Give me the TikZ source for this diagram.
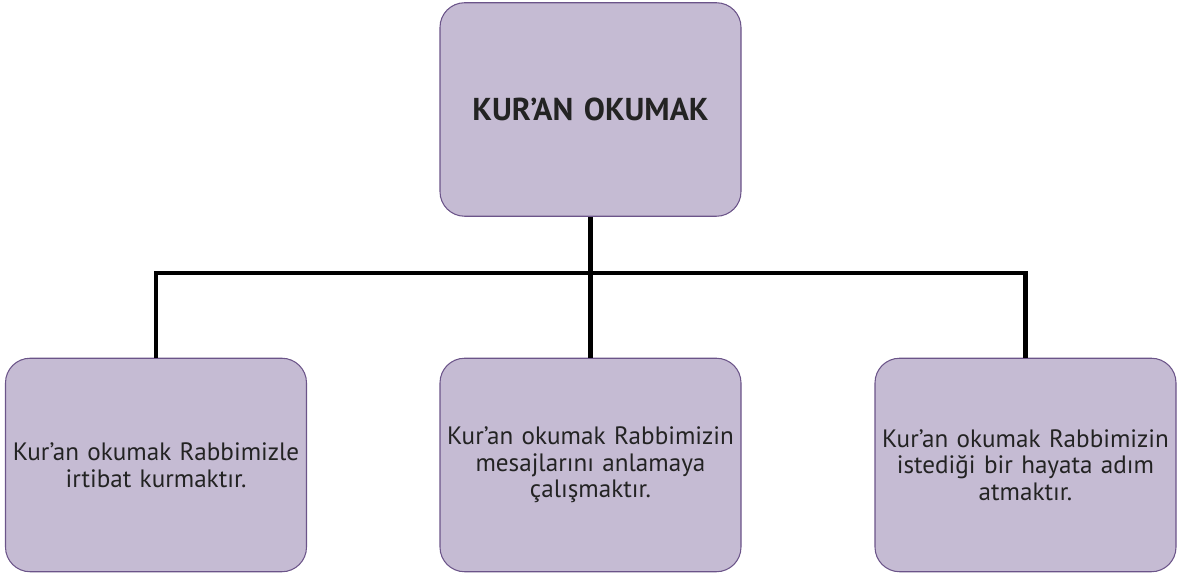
\documentclass[tikz,border=0pt]{standalone}
\usepackage{fontspec}
\setmainfont{PT Sans}
\usepackage{xcolor}
\definecolor{kutu}{HTML}{C5BBD3}
\definecolor{kenar}{HTML}{6B5489}
\definecolor{yazi}{HTML}{232323}
\tikzset{
  kutu/.style = {draw=kenar, line width=0.6pt, fill=kutu, rounded corners=14pt,
    minimum width=6.02cm, minimum height=4.27cm, align=center, text=yazi,
    text width=5.9cm, inner sep=0pt},
  bag/.style = {line width=2.3pt},
}

\begin{document}
\begin{tikzpicture}
			\def\W{23.66};
			\def\H{11.58};
			\def\bar{6.12};

			\useasboundingbox (0,0) rectangle (\W,\H);

			\node[kutu, font=\fontsize{18}{21}\selectfont\bfseries] (ana) at (11.81,9.39) {KUR’AN OKUMAK};

			\node[kutu, font=\fontsize{14.3}{15.2}\selectfont] (sol) at (3.12,2.28)
				{Kur’an okumak Rabbimizle\\irtibat kurmaktır.};
			\node[kutu, font=\fontsize{14.3}{15.2}\selectfont] (orta) at (11.81,2.28)
				{Kur’an okumak Rabbimizin\\mesajlarını anlamaya\\çalışmaktır.};
			\node[kutu, font=\fontsize{14.3}{15.2}\selectfont] (sag) at (20.51,2.28)
				{Kur’an okumak Rabbimizin\\istediği bir hayata adım\\atmaktır.};

			\begin{scope}[bag]
				\draw (ana.south) -- (orta.north);
				\draw (sol.north) -- (sol.north |- 0,\bar) -- (sag.north |- 0,\bar) -- (sag.north);
			\end{scope}
		\end{tikzpicture}
\end{document}
